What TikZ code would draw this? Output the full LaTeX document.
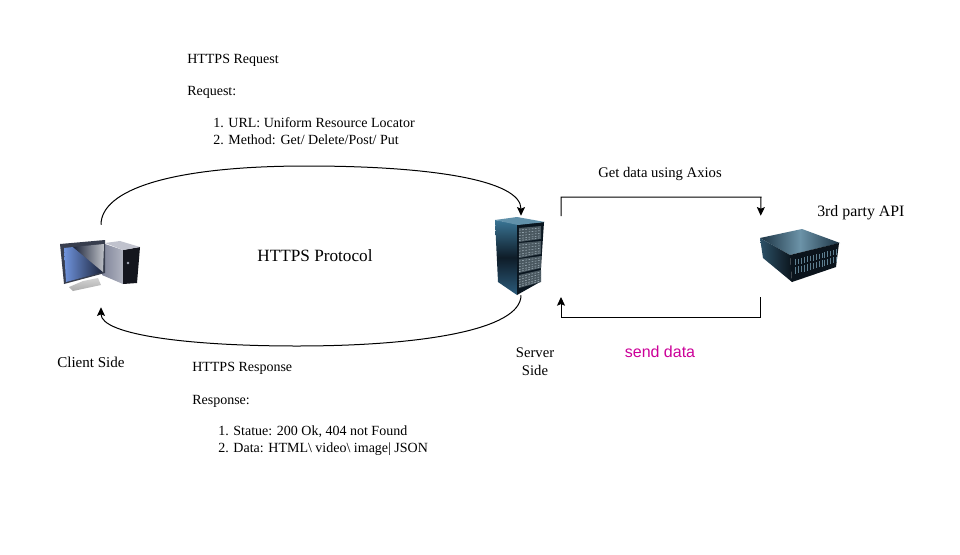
\documentclass[tikz,border=0pt]{standalone}
\usepackage{fontspec}
\setmainfont{Liberation Serif}
\newfontfamily\arialf{Liberation Sans}
\usetikzlibrary{arrows.meta}
\definecolor{sendc}{HTML}{CC0099}
\definecolor{scrblue}{HTML}{6F93DC}
\definecolor{scrdark}{HTML}{1A2238}
\definecolor{scrgrey}{HTML}{BFC2C8}
\definecolor{towa}{HTML}{7F8499}
\definecolor{towb}{HTML}{B0B3C0}
\definecolor{towc}{HTML}{14161E}
\definecolor{racka}{HTML}{3A7595}
\definecolor{rackb}{HTML}{0E1C28}
\definecolor{rackc}{HTML}{2C5C7C}
\definecolor{rackd}{HTML}{0A1620}
\definecolor{panel}{HTML}{4A5860}
\definecolor{panell}{HTML}{9AAAB4}
\definecolor{apia}{HTML}{1C3444}
\definecolor{apib}{HTML}{6C93A8}
\definecolor{apic}{HTML}{2D5268}
\definecolor{apid}{HTML}{0B141C}
\definecolor{slat}{HTML}{5E7F90}
\tikzset{
  x=0.75pt,y=-0.75pt,
  lbl/.style={inner sep=0pt,anchor=base west,font=\fontsize{10.5}{12.5}\selectfont,text=black},
  lblc/.style={inner sep=0pt,anchor=base,font=\fontsize{11}{13}\selectfont,text=black},
  icon/.style={inner sep=0pt,draw=none},
  link/.style={draw=black,line width=0.75pt,-{Stealth[length=6.5pt,width=6pt,inset=1.2pt]}},
}
\begin{document}
\begin{tikzpicture}
\useasboundingbox (0,0) rectangle (960,554);
\fill[white] (0,0) rectangle (960,554);

% ---- client computer
\path[left color=towa,right color=towb] (105,244)--(123,250)--(123,284)--(102,275)--cycle;
\fill[towc] (123,250)--(140,247)--(137,283)--(123,284)--cycle;
\fill[towb!80!white] (105,243)--(120,241)--(140,247)--(123,250)--cycle;
\fill[towa!70] (128,263) circle (1.3);
\path[top color=gray!35,bottom color=gray!65] (83,281)--(98,278)--(101,285)--(73,291)--(69,287)--cycle;
\fill[scrdark!70!gray] (60,244)--(105,240)--(105,273)--(64,284)--cycle;
\path[left color=scrblue,right color=scrdark] (64,248)--(73,247)--(103,272)--(66,282)--cycle;
\path[left color=scrdark,right color=scrgrey] (73,247)--(104,244)--(103,272)--cycle;

% ---- server rack
\path[top color=racka,bottom color=rackc,middle color=rackb] (495,220)--(517,224)--(517,295)--(498,282)--cycle;
\fill[rackd] (517,224)--(544,222)--(540,282)--(517,295)--cycle;
\fill[racka!80!white] (495,220)--(517,217)--(545,222)--(518,225)--cycle;
\foreach \ya/\yb/\yc/\yd in {228/226/239/242,243/241/254/258,259/256/268/273,275/270/282/288}{
  \fill[panel] (519,\ya)--(541,\yb)--(541,\yc)--(519,\yd)--cycle;
  \foreach \f in {0.15,0.35,0.55,0.75,0.9}{
    \draw[panell,line width=0.45pt,dash pattern=on 1.2pt off 1.2pt]
      (519,{\ya+\f*(\yd-\ya)})--(541,{\yb+\f*(\yc-\yb)});
  }
}

% ---- third party server
\path[left color=apia,right color=apia,middle color=apib] (760,238)--(802,229)--(840,243)--(790,255)--cycle;
\path[left color=apic,right color=apid] (760,238)--(790,255)--(792,282)--(763,258)--cycle;
\fill[apid] (790,255)--(839,243)--(836,267)--(792,282)--cycle;
\foreach \i in {1,...,15}{
  \draw[slat,line width=0.7pt]
    ({793+\i*2.9},{260-\i*0.72})--({793+\i*2.9},{266-\i*0.76});
  \draw[slat,line width=0.7pt]
    ({793+\i*2.9},{268-\i*0.76})--({793+\i*2.9},{275-\i*0.85});
}

% ---- anchors for the connectors
\node[icon,minimum width=75pt,minimum height=61.5pt] (client) at (101,266) {};
\node[icon,minimum width=60pt,minimum height=59.25pt] (server) at (521,255.5) {};
\node[icon,minimum width=58.5pt,minimum height=60.75pt] (api) at (800,256.5) {};
\coordinate (srvOutTop) at (561,216);
\coordinate (srvInBot) at (561,297);

% ---- connectors
\draw[link] (client.north) .. controls (101,190) and (170,166) .. (307,166)
  .. controls (430,166) and (521,180) .. (server.north);
\draw[link] (server.south) .. controls (521,330) and (420,346) .. (297,346)
  .. controls (190,346) and (101,335) .. (client.south);
\draw[link] (srvOutTop) |- (761,197) -- (api.north west);
\draw[link] (api.south west) |- (561,317) -- (srvInBot);

% ---- labels
\node[lbl] (t1) at (187,63) {HTTPS Request};
\node[lbl] (t2) at (187,95.5) {Request:};
\node[lbl] (t3) at (213,127.5) {1. URL: Uniform Resource Locator};
\node[lbl] (t4) at (213,144) {2. Method: Get/ Delete/Post/ Put};
\node[lblc] (t5) at (660,177) {Get data using Axios};
\node[lbl,font=\fontsize{11.9}{14}\selectfont] (t6) at (817,216.5) {3rd party API};
\node[inner sep=0pt,anchor=base,font=\fontsize{12.9}{15}\selectfont] (t7) at (315,261.5) {HTTPS Protocol};
\node[lbl,font=\fontsize{11.3}{13}\selectfont] (t8) at (57,367) {Client Side};
\node[lblc] (t9a) at (535,357.5) {Server};
\node[lblc] (t9b) at (535,375.5) {Side};
\node[inner sep=0pt,anchor=base,font=\arialf\fontsize{12}{14}\selectfont,text=sendc] (t10) at (660,357) {send data};
\node[lbl] (t11) at (192,371) {HTTPS Response};
\node[lbl] (t12) at (192,404) {Response:};
\node[lbl] (t13) at (218,435.5) {1. Statue: 200 Ok, 404 not Found};
\node[lbl] (t14) at (218,452.5) {2. Data: HTML\textbackslash{} video\textbackslash{} image| JSON};
\end{tikzpicture}
\end{document}
